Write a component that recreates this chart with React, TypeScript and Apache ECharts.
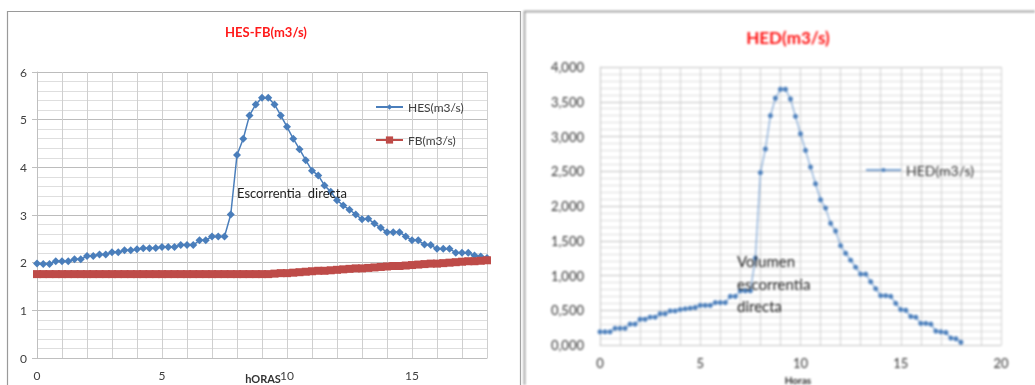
import React, { useEffect, useRef } from "react";
import * as echarts from "echarts";

// Hours (0 to 18, every 15 minutes)
const hours: number[] = [
  0, 0.25, 0.5, 0.75, 1, 1.25, 1.5, 1.75, 2, 2.25, 2.5, 2.75, 3, 3.25, 3.5, 3.75,
  4, 4.25, 4.5, 4.75, 5, 5.25, 5.5, 5.75, 6, 6.25, 6.5, 6.75, 7, 7.25, 7.5, 7.75,
  8, 8.25, 8.5, 8.75, 9, 9.25, 9.5, 9.75, 10, 10.25, 10.5, 10.75, 11, 11.25, 11.5, 11.75,
  12, 12.25, 12.5, 12.75, 13, 13.25, 13.5, 13.75, 14, 14.25, 14.5, 14.75, 15, 15.25, 15.5, 15.75,
  16, 16.25, 16.5, 16.75, 17, 17.25, 17.5, 17.75, 18,
];

// HES (m3/s)
const hes: number[] = [
  1.98, 1.97, 1.97, 2.03, 2.03, 2.03, 2.07, 2.07, 2.14, 2.14, 2.17, 2.17, 2.22, 2.22, 2.26, 2.26,
  2.28, 2.3, 2.3, 2.31, 2.33, 2.33, 2.33, 2.37, 2.37, 2.37, 2.47, 2.47, 2.55, 2.55, 2.55, 3.01,
  4.26, 4.6, 5.09, 5.32, 5.46, 5.46, 5.32, 5.09, 4.85, 4.6, 4.38, 4.15, 3.93, 3.83, 3.62, 3.49,
  3.31, 3.2, 3.11, 3.01, 2.91, 2.92, 2.82, 2.73, 2.64, 2.64, 2.64, 2.55, 2.47, 2.47, 2.38, 2.37,
  2.29, 2.29, 2.29, 2.21, 2.21, 2.21, 2.15, 2.13, 2.1,
];

// FB (m3/s)
const fb: number[] = [
  1.76, 1.76, 1.76, 1.76, 1.76, 1.76, 1.76, 1.76, 1.76, 1.76, 1.76, 1.76, 1.76, 1.76, 1.76, 1.76,
  1.76, 1.76, 1.76, 1.76, 1.76, 1.76, 1.76, 1.76, 1.76, 1.76, 1.76, 1.76, 1.76, 1.76, 1.76, 1.76,
  1.76, 1.76, 1.76, 1.76, 1.76, 1.76, 1.77, 1.78, 1.78, 1.79, 1.8, 1.81, 1.82, 1.83, 1.83, 1.84,
  1.85, 1.86, 1.87, 1.88, 1.88, 1.89, 1.9, 1.91, 1.92, 1.93, 1.93, 1.94, 1.95, 1.96, 1.97, 1.98,
  1.98, 1.99, 2.0, 2.01, 2.02, 2.03, 2.03, 2.04, 2.05,
];

// HED (m3/s)
const hed: number[] = [
  0.19, 0.19, 0.19, 0.24, 0.24, 0.24, 0.3, 0.3, 0.37, 0.37, 0.4, 0.4, 0.45, 0.45, 0.49, 0.49,
  0.51, 0.52, 0.53, 0.54, 0.57, 0.57, 0.57, 0.61, 0.61, 0.61, 0.7, 0.7, 0.78, 0.78, 0.78, 1.25,
  2.48, 2.82, 3.3, 3.55, 3.68, 3.68, 3.54, 3.29, 3.04, 2.8, 2.56, 2.32, 2.09, 1.97, 1.75, 1.64,
  1.43, 1.32, 1.22, 1.12, 1.02, 1.02, 0.91, 0.81, 0.71, 0.71, 0.7, 0.6, 0.51, 0.5, 0.41, 0.4,
  0.31, 0.31, 0.3, 0.2, 0.19, 0.18, 0.1, 0.09, 0.04,
];

const leftXLabels: number[] = [0, 5, 10, 15];
const rightXLabels: number[] = [0, 5, 10, 15, 20];

const FONT = "Lato, 'Open Sans', sans-serif";

function pairs(xs: number[], ys: number[]) {
  return xs.map((x, i) => [x, ys[i]]);
}

export default function App() {
  const leftRef = useRef<HTMLDivElement>(null);
  const rightRef = useRef<HTMLDivElement>(null);

  useEffect(() => {
    const left = echarts.init(leftRef.current!, null, { renderer: "svg" });
    const right = echarts.init(rightRef.current!, null, { renderer: "svg" });

    left.setOption({
      animation: false,
      backgroundColor: "#ffffff",
      textStyle: { fontFamily: FONT },
      grid: { left: 37, right: 35, top: 72, bottom: 27 },
      xAxis: {
        type: "value",
        min: 0,
        max: 18,
        interval: 1,
        axisLine: { show: true, lineStyle: { color: "#bfbfbf" } },
        axisTick: { show: false },
        axisLabel: {
          color: "#404040",
          fontSize: 12,
          margin: 11,
          formatter: (v: number) => (leftXLabels.includes(v) ? String(v) : ""),
        },
        splitLine: { show: true, lineStyle: { color: "#cfcfcf", width: 1 } },
      },
      yAxis: {
        type: "value",
        min: 0,
        max: 6,
        interval: 1,
        axisLine: { show: true, lineStyle: { color: "#bfbfbf" } },
        axisTick: { show: true, length: 5, lineStyle: { color: "#bfbfbf" } },
        axisLabel: { color: "#404040", fontSize: 12, margin: 10 },
        splitLine: { show: true, lineStyle: { color: "#bcbcbc", width: 1 } },
        minorTick: { show: false, splitNumber: 5 },
        minorSplitLine: { show: true, lineStyle: { color: "#dedede", width: 1 } },
      },
      legend: [
        {
          data: ["HES(m3/s)"],
          left: 375,
          top: 101,
          padding: 0,
          itemWidth: 27,
          itemHeight: 7,
          textStyle: { color: "#404040", fontSize: 12, fontFamily: FONT },
        },
        {
          data: ["FB(m3/s)"],
          left: 375,
          top: 134,
          padding: 0,
          itemWidth: 27,
          itemHeight: 9,
          textStyle: { color: "#404040", fontSize: 12, fontFamily: FONT },
        },
      ],
      series: [
        {
          name: "HES(m3/s)",
          type: "line",
          data: pairs(hours, hes),
          symbol: "diamond",
          symbolSize: 8,
          lineStyle: { color: "#4a7ebb", width: 1.5 },
          itemStyle: { color: "#4a7ebb" },
        },
        {
          name: "FB(m3/s)",
          type: "line",
          data: pairs(hours, fb),
          symbol: "rect",
          symbolSize: 8,
          lineStyle: { color: "#be4b48", width: 3 },
          itemStyle: { color: "#be4b48" },
        },
      ],
      graphic: [
        {
          type: "rect",
          shape: { x: 7.5, y: 11.5, width: 513, height: 420 },
          style: { fill: "none", stroke: "#9a9a9a", lineWidth: 1.2 },
          silent: true,
        },
        {
          type: "text",
          x: 266,
          y: 32,
          style: {
            text: "HES-FB(m3/s)",
            fill: "#ff1a1a",
            font: "bold 13px " + FONT,
            align: "center",
            verticalAlign: "middle",
          },
        },
        {
          type: "text",
          x: 237,
          y: 193,
          z: 100,
          style: {
            text: "Escorrentia  directa",
            fill: "#1f1f1f",
            font: "13px " + FONT,
            align: "left",
            verticalAlign: "middle",
          },
        },
        {
          type: "text",
          x: 263,
          y: 384,
          style: {
            text: "hORAS",
            fill: "#333333",
            font: "bold 11px " + FONT,
            align: "center",
            verticalAlign: "bottom",
          },
        },
      ],
    });

    right.setOption({
      animation: false,
      backgroundColor: "#ffffff",
      textStyle: { fontFamily: FONT },
      grid: { left: 78, right: 34, top: 67, bottom: 40 },
      xAxis: {
        type: "value",
        min: 0,
        max: 20,
        interval: 1,
        axisLine: { show: true, lineStyle: { color: "#c4c4c4" } },
        axisTick: { show: false },
        axisLabel: {
          color: "#333333",
          fontSize: 13,
          margin: 11,
          formatter: (v: number) => (rightXLabels.includes(v) ? String(v) : ""),
        },
        splitLine: { show: true, lineStyle: { color: "#d2d2d2", width: 1 } },
      },
      yAxis: {
        type: "value",
        min: 0,
        max: 4,
        interval: 0.5,
        axisLine: { show: true, lineStyle: { color: "#c4c4c4" } },
        axisTick: { show: false },
        axisLabel: {
          color: "#333333",
          fontSize: 13,
          margin: 16,
          formatter: (v: number) => v.toFixed(3).replace(".", ","),
        },
        splitLine: { show: true, lineStyle: { color: "#c2c2c2", width: 1 } },
        minorTick: { show: false, splitNumber: 5 },
        minorSplitLine: { show: true, lineStyle: { color: "#dddddd", width: 1 } },
      },
      legend: {
        data: ["HED(m3/s)"],
        left: 343,
        top: 163,
        padding: 0,
        itemWidth: 35,
        itemHeight: 5,
        itemGap: 2,
        textStyle: { color: "#333333", fontSize: 14, fontFamily: FONT },
      },
      series: [
        {
          name: "HED(m3/s)",
          type: "line",
          data: pairs(hours, hed),
          symbol: "circle",
          symbolSize: 5,
          lineStyle: { color: "#7fa7d6", width: 1.2 },
          itemStyle: { color: "#4a7ebb" },
        },
      ],
      graphic: [
        {
          type: "rect",
          shape: { x: 2.5, y: 11.5, width: 520, height: 420 },
          style: { fill: "none", stroke: "#8a8a8a", lineWidth: 1.5 },
          silent: true,
        },
        {
          type: "text",
          x: 266,
          y: 37,
          style: {
            text: "HED(m3/s)",
            fill: "#ff1010",
            font: "bold 17px " + FONT,
            align: "center",
            verticalAlign: "middle",
          },
        },
        {
          type: "text",
          x: 215,
          y: 250,
          z: 100,
          style: {
            text: "Volumen\nescorrentia\ndirecta",
            fill: "#222222",
            font: "15px " + FONT,
            lineHeight: 22.5,
            align: "left",
            verticalAlign: "top",
          },
        },
        {
          type: "text",
          x: 276,
          y: 385,
          style: {
            text: "Horas",
            fill: "#222222",
            font: "bold 10px " + FONT,
            align: "center",
            verticalAlign: "bottom",
          },
        },
      ],
    });

    return () => {
      left.dispose();
      right.dispose();
    };
  }, []);

  return (
    <div style={{ position: "fixed", left: 0, top: 0, width: 1035, height: 385, background: "#fff", overflow: "hidden" }}>
      <div
        ref={leftRef}
        style={{ position: "absolute", left: 0, top: 0, width: 522, height: 385, filter: "blur(0.35px)" }}
      />
      <div
        ref={rightRef}
        style={{ position: "absolute", left: 522, top: 0, width: 513, height: 385, filter: "blur(0.9px)" }}
      />
    </div>
  );
}
